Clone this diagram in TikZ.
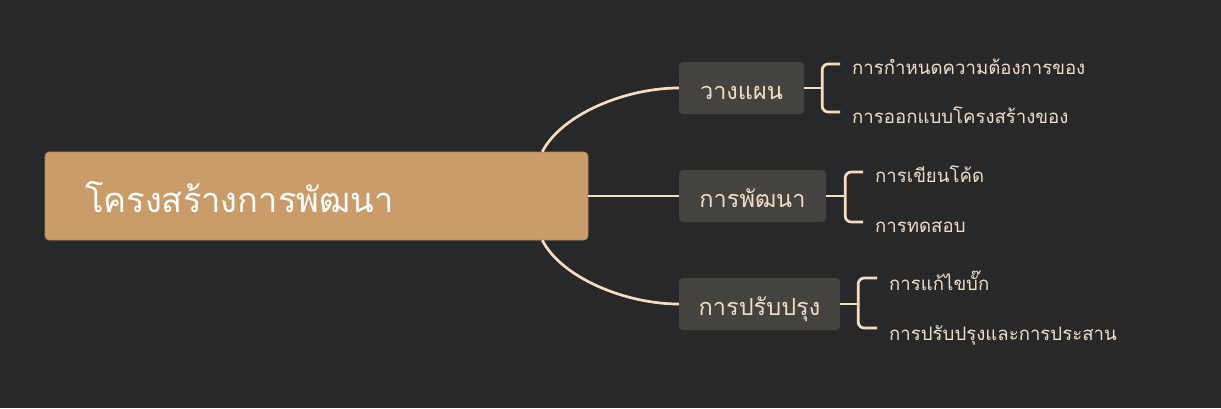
\documentclass[tikz,border=0pt]{standalone}
\usepackage{fontspec}
\setmainfont[Script=Thai]{Loma}
\usetikzlibrary{calc}
\definecolor{bgc}{RGB}{39,40,42}
\definecolor{rootc}{RGB}{201,156,105}
\definecolor{rootedge}{RGB}{176,134,88}
\definecolor{boxc}{RGB}{69,67,63}
\definecolor{linec}{RGB}{248,220,192}
\definecolor{txtc}{RGB}{242,222,200}
\tikzset{
  rootbox/.style={fill=rootc, draw=rootedge, line width=0.6pt, rounded corners=4pt, minimum width=543pt, minimum height=88pt, inner xsep=40pt, inner ysep=0pt, text width=463pt, text height=32pt, text depth=0pt, align=left, text=white, font=\fontsize{34.5}{40}\selectfont},
  branchbox/.style={fill=boxc, rounded corners=4pt, minimum height=52pt, inner sep=0pt, text height=22pt, text depth=0pt, text=txtc, font=\fontsize{23.5}{28}\selectfont},
  leaf/.style={anchor=base west, inner sep=0pt, text=txtc, font=\fontsize{18.6}{22}\selectfont},
  conn/.style={draw=linec, line width=2.7pt},
  brk/.style={draw=linec, line width=2.7pt, rounded corners=6pt}
}
\begin{document}
\begin{tikzpicture}[x=1pt,y=-1pt]
\fill[bgc] (0,0) rectangle (1221,408);
\useasboundingbox (0,0) rectangle (1221,408);
\node[rootbox] (root) at (316.5,196) {โครงสร้างการพัฒนา};
\node[branchbox, minimum width=125pt] (b1) at (741.5,88) {วางแผน};
\node[branchbox, minimum width=147pt] (b2) at (752.5,196) {การพัฒนา};
\node[branchbox, minimum width=161pt] (b3) at (759.5,304) {การปรับปรุง};
\draw[conn] ([xshift=-46pt]root.north east) .. controls +(19,-37) and +(-54,0) .. (b1.west);
\draw[conn] ([xshift=-46pt]root.south east) .. controls +(19,37) and +(-54,0) .. (b3.west);
\draw[conn] (root.east) -- (b2.west);
% leaves
\node[leaf] (l1a) at (852,74) {การกำหนดความต้องการของ};
\node[leaf] (l1b) at (852,123) {การออกแบบโครงสร้างของ};
\node[leaf] (l2a) at (875,182) {การเขียนโค้ด};
\node[leaf] (l2b) at (875,232) {การทดสอบ};
\node[leaf] (l3a) at (889,290) {การแก้ไขบั๊ก};
\node[leaf] (l3b) at (889,340) {การปรับปรุงและการประสาน};
% brackets
\coordinate (s1) at ([xshift=18pt]b1.east);
\coordinate (s2) at ([xshift=19pt]b2.east);
\coordinate (s3) at ([xshift=18pt]b3.east);
\draw[conn] (b1.east) -- (s1);
\draw[conn] (b2.east) -- (s2);
\draw[conn] (b3.east) -- (s3);
\draw[brk] ([xshift=-12pt,yshift=10pt]l1a.base west) -| (s1) |- ([xshift=-12pt,yshift=11pt]l1b.base west);
\draw[brk] ([xshift=-12pt,yshift=10pt]l2a.base west) -| (s2) |- ([xshift=-12pt,yshift=10pt]l2b.base west);
\draw[brk] ([xshift=-12pt,yshift=12pt]l3a.base west) -| (s3) |- ([xshift=-12pt,yshift=12pt]l3b.base west);
\end{tikzpicture}
\end{document}
